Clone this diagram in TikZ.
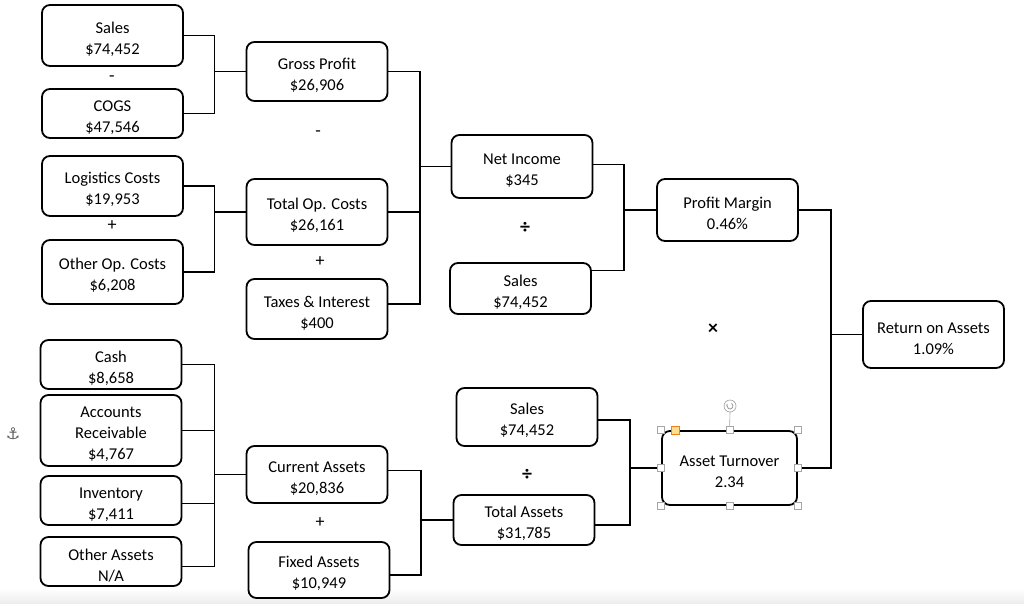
\documentclass[tikz,border=0pt]{standalone}
\usepackage{fontspec}
\setmainfont{Carlito}
\newfontfamily\djv{DejaVu Sans}
\usetikzlibrary{calc,arrows.meta}
\newcommand\tst{\rule{0pt}{19pt}}
\begin{document}
\begin{tikzpicture}[x=1pt,y=-1pt,
  box/.style={draw=black, line width=1.8pt, rounded corners=8pt, fill=white,
    minimum width=141pt, align=center, inner sep=0pt,
    font=\fontsize{16.5}{21}\selectfont},
  op/.style={font=\fontsize{18}{20}\selectfont, inner sep=0pt},
  bop/.style={font=\bfseries\fontsize{20}{20}\selectfont, inner sep=0pt},
  conn/.style={line width=1.8pt, line join=miter},
  handle/.style={draw=gray!70, fill=white, line width=0.6pt, minimum size=7pt, inner sep=0pt}]
\useasboundingbox (0,0) rectangle (1024,603);
\shade[top color=white, bottom color=black!7] (0,588) rectangle (1024,603);

% boxes
\node[box, minimum height=61pt] (s1) at (112.5,35.5) {\tst Sales\\\$74,452};
\node[box, minimum height=49pt] (cogs) at (112.5,113.5) {\tst COGS\\\$47,546};
\node[box, minimum height=59pt] (gp) at (317,71.5) {\tst Gross Profit\\\$26,906};
\node[box, minimum height=60pt] (loc) at (112.5,186) {\tst Logistics Costs\\\$19,953};
\node[box, minimum height=64pt] (ooc) at (112.5,272) {\tst Other Op. Costs\\\$6,208};
\node[box, minimum height=66pt] (toc) at (317,212) {\tst Total Op. Costs\\\$26,161};
\node[box, minimum height=60pt] (ti) at (317,309) {\tst Taxes \& Interest\\\$400};
\node[box, minimum height=63pt] (ni) at (522,166.5) {\tst Net Income\\\$345};
\node[box, minimum height=51pt] (s2) at (520.5,288.5) {\tst Sales\\\$74,452};
\node[box, minimum height=62pt] (pm) at (727.5,210) {\tst Profit Margin\\0.46\%};
\node[box, minimum height=67pt] (roa) at (933.5,334.5) {\tst Return on Assets\\1.09\%};
\node[box, minimum height=49pt] (cash) at (111,364.5) {\tst Cash\\\$8,658};
\node[box, minimum height=71pt] (ar) at (111,430.5) {\tst Accounts\\Receivable\\\$4,767};
\node[box, minimum height=49pt] (inv) at (111,500.5) {\tst Inventory\\\$7,411};
\node[box, minimum height=49pt] (oa) at (111,561.5) {\tst Other Assets\\N/A};
\node[box, minimum height=57pt] (ca) at (317,474.5) {\tst Current Assets\\\$20,836};
\node[box, minimum height=56pt] (fa) at (319,570) {\tst Fixed Assets\\\$10,949};
\node[box, minimum height=58pt] (s3) at (527,417) {\tst Sales\\\$74,452};
\node[box, minimum height=50pt] (ta) at (524,520) {\tst Total Assets\\\$31,785};
\node[box, minimum height=74pt, minimum width=135pt] (at) at (729.5,468) {\tst Asset Turnover\\2.34};

% operators
\node[op] (o1) at (112,79) {-};
\node[op] (o2) at (318,134) {-};
\node[op] (o3) at (112,226) {+};
\node[op] (o4) at (320,262) {+};
\node[bop] (o5) at (525,228) {÷};
\node[bop] (o6) at (713,329) {×};
\node[op] (o7) at (320,523) {+};
\node[bop] (o8) at (527,475) {÷};

% bus junctions
\coordinate (b1) at (214.5,71.5);
\coordinate (b2) at (420,166.5);
\coordinate (b3) at (624,210);
\coordinate (b4) at (831,334.5);
\coordinate (b5) at (214.5,474.5);
\coordinate (b6) at (421,520);
\coordinate (b7) at (630,468);

\draw[conn] (s1.east) -| (b1) |- (cogs.east);
\draw[conn] (b1) -- (gp.west);
\draw[conn] (loc.east) -| (b1 |- toc.west) |- (ooc.east);
\draw[conn] (b1 |- toc.west) -- (toc.west);
\draw[conn] (gp.east) -| (b2) |- ([yshift=5pt]ti.east);
\draw[conn] (toc.east) -- (toc.east -| b2);
\draw[conn] (b2) -- (ni.west);
\draw[conn] ([yshift=2pt]ni.east) -| (b3) |- ([yshift=18pt]s2.east);
\draw[conn] (b3) -- (pm.west);
\draw[conn] (pm.east) -| (b4) |- (at.east);
\draw[conn] (b4) -- (roa.west);
\draw[conn] (cash.east) -| (b5) |- ([yshift=-5pt]oa.east);
\draw[conn] (ar.east) -- (ar.east -| b5);
\draw[conn] ([yshift=-3pt]inv.east) -- ([yshift=-3pt]inv.east -| b5);
\draw[conn] (b5) -- (ca.west);
\draw[conn] ([yshift=4pt]ca.east) -| (b6) |- ([yshift=-5pt]fa.east);
\draw[conn] (b6) -- (ta.west);
\draw[conn] ([yshift=-3pt]s3.east) -| (b7) |- ([yshift=-5pt]ta.east);
\draw[conn] (b7) -- (at.west);

% selection handles on Asset Turnover
\coordinate (rot) at (730,406);
\draw[gray!70, line width=0.6pt] (at.north) -- ([yshift=-6pt]rot);
\draw[gray!70, line width=0.7pt, fill=white] (rot) circle (6pt);
\draw[gray!80, line width=0.8pt, -{Stealth[length=2pt]}] ([shift={(60:3pt)}]rot) arc[start angle=60, end angle=-220, radius=3pt];
\foreach \a in {north west, north, north east, west, east, south west, south, south east}
  \node[handle] at (at.\a) {};
\node[draw=orange!70!brown, fill=yellow!40!orange!40, line width=0.6pt, minimum size=8pt, inner sep=0pt] at (675,430) {};

% anchor mark
\node[text=gray!70!black, font=\djv\fontsize{16}{16}\selectfont, inner sep=0pt] (anc) at (13,434) {⚓};
\end{tikzpicture}
\end{document}
